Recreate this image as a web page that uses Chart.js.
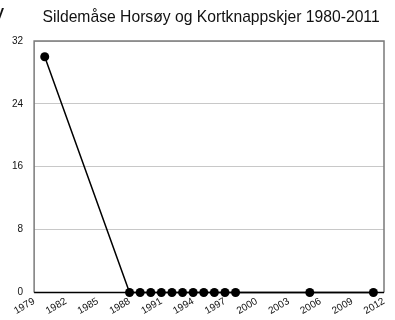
<!DOCTYPE html>
<html>
<head>
  <script src="https://cdnjs.cloudflare.com/ajax/libs/Chart.js/4.4.1/chart.umd.min.js"></script>
  <style>
    body {
      margin: 0;
      background: #fff;
      font-family: "Liberation Sans", Arial, sans-serif;
    }
    .wrap {
      position: relative;
      width: 395px;
      height: 320px;
      overflow: hidden;
    }
    .wrap canvas {
      display: block;
    }
    .cut {
      position: absolute;
      left: -7px;
      top: 0px;
      font-size: 22px;
      color: #111;
    }
  </style>
</head>
<body>
  <div class="wrap">
    <span class="cut">y</span>
    <canvas id="chart" width="395" height="320"></canvas>
  </div>

  <script>
    const years = [1980, 1988, 1989, 1990, 1991, 1992, 1993, 1994, 1995, 1996, 1997, 1998, 2005, 2011];
    const counts = [30, 0, 0, 0, 0, 0, 0, 0, 0, 0, 0, 0, 0, 0];
    const yTicks = [0, 8, 16, 24, 32];
    const xRange = [1979, 2012];
    const titleText = 'Sildemåse Horsøy og Kortknappskjer 1980-2011';

    const font = '"Liberation Sans", Arial, sans-serif';

    // frame round the plot area (grey on three sides, black base line) and the title above it
    const frame = {
      id: 'frame',
      beforeDatasetsDraw(chart) {
        const { ctx, chartArea: a } = chart;
        ctx.save();
        ctx.strokeStyle = '#7a7a7a';
        ctx.lineWidth = 1.5;
        ctx.beginPath();
        ctx.moveTo(a.left, a.bottom);
        ctx.lineTo(a.left, a.top);
        ctx.lineTo(a.right, a.top);
        ctx.lineTo(a.right, a.bottom);
        ctx.stroke();
        ctx.strokeStyle = '#000';
        ctx.beginPath();
        ctx.moveTo(a.left, a.bottom);
        ctx.lineTo(a.right, a.bottom);
        ctx.stroke();

        ctx.fillStyle = '#111';
        ctx.font = '15.7px ' + font;
        ctx.textAlign = 'center';
        ctx.textBaseline = 'middle';
        ctx.fillText(titleText, (a.left + a.right) / 2 + 2, 18);
        ctx.restore();
      }
    };

    new Chart(document.getElementById('chart'), {
      type: 'line',
      data: {
        datasets: [{
          data: years.map((y, i) => ({ x: y, y: counts[i] })),
          borderColor: '#000',
          borderWidth: 1.5,
          backgroundColor: '#000',
          pointRadius: 4.5,
          pointBorderWidth: 0,
          tension: 0,
          clip: false
        }]
      },
      options: {
        responsive: false,
        animation: false,
        layout: { padding: { left: 1, right: 11, top: 41, bottom: 0 } },
        plugins: {
          legend: { display: false },
          tooltip: { enabled: false },
          title: { display: false }
        },
        scales: {
          x: {
            type: 'linear',
            min: xRange[0],
            max: xRange[1],
            grid: { display: false, drawTicks: false },
            border: { display: false },
            ticks: {
              stepSize: 3,
              minRotation: 30,
              maxRotation: 30,
              color: '#111',
              padding: 3,
              font: { family: font, size: 10 },
              callback: v => String(v)
            }
          },
          y: {
            min: yTicks[0],
            max: yTicks[yTicks.length - 1],
            afterBuildTicks: axis => { axis.ticks = yTicks.map(v => ({ value: v })); },
            grid: { color: '#c8c8c8', lineWidth: 1, drawTicks: false },
            border: { display: false },
            ticks: {
              color: '#111',
              padding: 11,
              font: { family: font, size: 10 }
            }
          }
        }
      },
      plugins: [frame]
    });
  </script>
</body>
</html>
